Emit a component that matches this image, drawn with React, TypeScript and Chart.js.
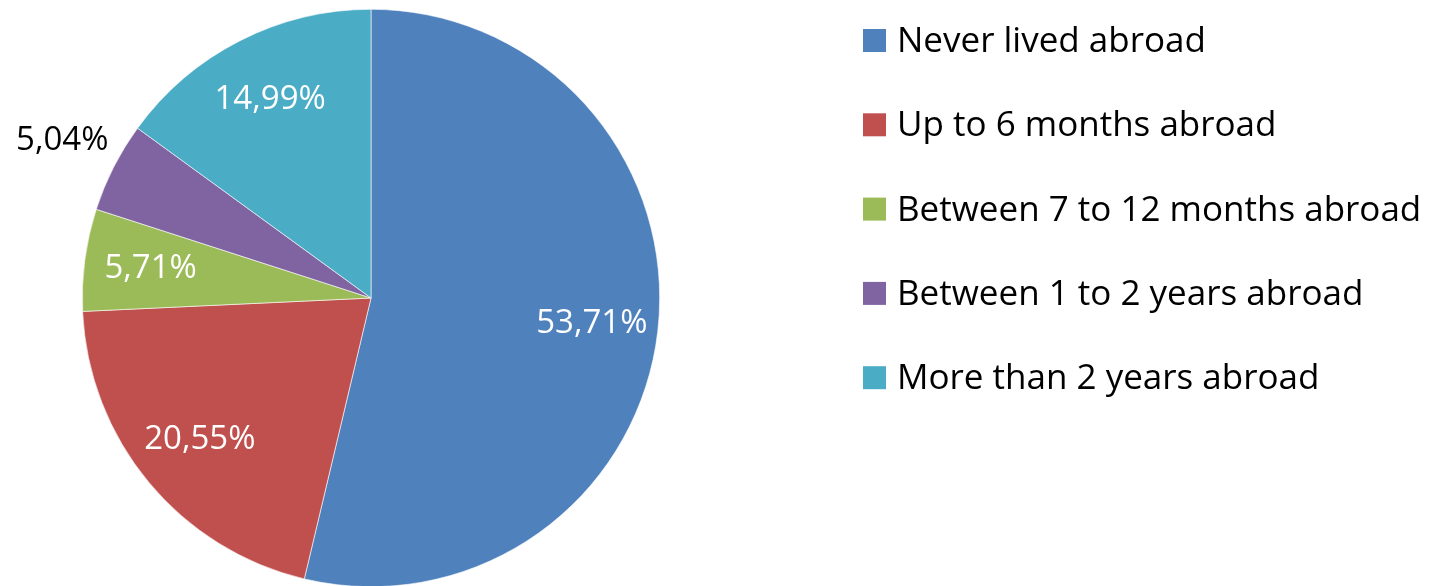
import React, { useEffect, useRef } from "react";
import { Chart, registerables } from "chart.js";

Chart.register(...registerables);

const categories: string[] = [
  "Never lived abroad",
  "Up to 6 months abroad",
  "Between 7 to 12 months abroad",
  "Between 1 to 2 years abroad",
  "More than 2 years abroad",
];
const values: number[] = [53.71, 20.55, 5.71, 5.04, 14.99];
const valueLabels: string[] = ["53,71%", "20,55%", "5,71%", "5,04%", "14,99%"];
const colors: string[] = ["#4F81BD", "#C0504D", "#9BBB59", "#8064A2", "#4BACC6"];
const labelInside: boolean[] = [true, true, true, false, true];

const FONT = "'Open Sans', 'Noto Sans', sans-serif";

const labelPlugin = {
  id: "sliceLabels",
  afterDatasetsDraw(chart: any) {
    const ctx = chart.ctx;
    const meta = chart.getDatasetMeta(0);
    ctx.save();
    ctx.font = `33px ${FONT}`;
    ctx.textAlign = "center";
    ctx.textBaseline = "middle";
    meta.data.forEach((arc: any, i: number) => {
      const { x, y, startAngle, endAngle, outerRadius } = arc.getProps(
        ["x", "y", "startAngle", "endAngle", "outerRadius"],
        true
      );
      const mid = (startAngle + endAngle) / 2;
      const f = labelInside[i] ? 0.77 : 1.2;
      const lx = x + Math.cos(mid) * outerRadius * f;
      const ly = y + Math.sin(mid) * outerRadius * f;
      ctx.fillStyle = labelInside[i] ? "#FFFFFF" : "#000000";
      ctx.fillText(valueLabels[i], lx, ly);
    });
    ctx.restore();
  },
};

const legendPlugin = {
  id: "sideLegend",
  afterDraw(chart: any) {
    const ctx = chart.ctx;
    const ds = chart.data.datasets[0];
    ctx.save();
    ctx.font = `35px ${FONT}`;
    ctx.textAlign = "left";
    ctx.textBaseline = "middle";
    chart.data.labels.forEach((lab: string, i: number) => {
      const cy = 41 + i * 84.3;
      ctx.fillStyle = ds.backgroundColor[i];
      ctx.fillRect(863, cy - 12, 23, 23);
      ctx.fillStyle = "#000000";
      ctx.fillText(lab, 897, cy + 1);
    });
    ctx.restore();
  },
};

export default function App() {
  const ref = useRef<HTMLCanvasElement | null>(null);
  useEffect(() => {
    document.body.style.margin = "0";
    document.body.style.overflow = "hidden";
    const chart = new Chart(ref.current as HTMLCanvasElement, {
      type: "pie",
      data: {
        labels: categories,
        datasets: [
          {
            data: values,
            backgroundColor: colors,
            borderColor: "#FFFFFF",
            borderWidth: 0.6,
          },
        ],
      },
      options: {
        animation: false,
        responsive: false,
        rotation: 0,
        layout: { padding: { left: 82, top: 9, right: 772, bottom: 0 } },
        plugins: {
          legend: { display: false },
          tooltip: { enabled: false },
        },
      },
      plugins: [labelPlugin, legendPlugin],
    });
    return () => chart.destroy();
  }, []);
  return (
    <div style={{ width: 1432, height: 586, overflow: "hidden", background: "#fff" }}>
      <canvas ref={ref} width={1432} height={587} style={{ display: "block" }} />
    </div>
  );
}
